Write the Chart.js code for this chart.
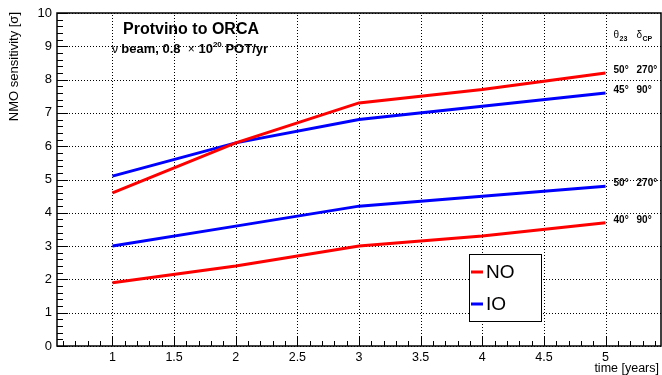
<!DOCTYPE html>
<html>
<head>
<meta charset="utf-8">
<script src="https://cdn.jsdelivr.net/npm/chart.js@4.4.1/dist/chart.umd.min.js"></script>
<style>
  html, body { margin: 0; padding: 0; background: #fff; }
  #wrap { width: 662px; height: 375px; }
</style>
</head>
<body>
<div id="wrap"><canvas id="nmoChart" width="662" height="375"></canvas></div>
<script>
// time in years
var years = [1, 2, 3, 4, 5];
// NMO sensitivity [sigma] per curve
var noUpper = [4.6, 6.1, 7.3, 7.7, 8.2];   // NO, th23=50, dCP=270
var ioUpper = [5.1, 6.1, 6.8, 7.2, 7.6];   // IO, th23=45, dCP=90
var ioLower = [3.0, 3.6, 4.2, 4.5, 4.8];   // IO, th23=50, dCP=270
var noLower = [1.9, 2.4, 3.0, 3.3, 3.7];   // NO, th23=40, dCP=90
var curveLabels = [['50°', '270°'], ['45°', '90°'], ['50°', '270°'], ['40°', '90°']];
var xTicks = [1, 1.5, 2, 2.5, 3, 3.5, 4, 4.5, 5];
var yTicks = [0, 1, 2, 3, 4, 5, 6, 7, 8, 9, 10];

var RED = 'rgb(255, 0, 0)';
var BLUE = 'rgb(0, 0, 255)';
var FONT = '"Liberation Sans", Arial, Helvetica, sans-serif';

function pts(vals) {
    return years.map(function (x, i) { return { x: x, y: vals[i] }; });
}

// dotted grid at the major ticks, under the curves
var dottedGrid = {
    id: 'dottedGrid',
    beforeDatasetsDraw: function (chart) {
        var ctx = chart.ctx;
        var a = chart.chartArea;
        var xs = chart.scales.x, ys = chart.scales.y;
        ctx.save();
        ctx.strokeStyle = '#000';
        ctx.lineWidth = 1;
        ctx.setLineDash([1, 2]);
        ctx.beginPath();
        xTicks.forEach(function (v) {
            var px = Math.round(xs.getPixelForValue(v)) + 0.5;
            ctx.moveTo(px, a.bottom);
            ctx.lineTo(px, a.top);
        });
        yTicks.forEach(function (v) {
            var py = Math.round(ys.getPixelForValue(v)) + 0.5;
            ctx.moveTo(a.left, py);
            ctx.lineTo(a.right, py);
        });
        ctx.stroke();
        ctx.restore();
    }
};

// draw a run of [text, font, dy] pieces one after another
function run(ctx, x, y, parts) {
    parts.forEach(function (p) {
        ctx.font = p[1];
        ctx.fillText(p[0], x, y + (p[2] || 0));
        x += ctx.measureText(p[0]).width;
    });
}

var rootStyle = {
    id: 'rootStyle',
    afterDraw: function (chart) {
        var ctx = chart.ctx;
        var a = chart.chartArea;
        var xs = chart.scales.x, ys = chart.scales.y;
        ctx.save();

        // minor / major ticks inside the frame
        ctx.strokeStyle = '#000';
        ctx.lineWidth = 1;
        ctx.beginPath();
        for (var i = 6; i <= 54; i++) {
            var px = Math.round(xs.getPixelForValue(i / 10)) + 0.5;
            var len = (i % 5 === 0) ? 10 : 5;
            ctx.moveTo(px, a.bottom);
            ctx.lineTo(px, a.bottom - len);
        }
        for (var j = 0; j <= 50; j++) {
            var py = Math.round(ys.getPixelForValue(j / 5)) + 0.5;
            var ylen = (j % 5 === 0) ? 11 : 6;
            ctx.moveTo(a.left, py);
            ctx.lineTo(a.left + ylen, py);
        }
        ctx.stroke();

        // frame
        ctx.lineWidth = 1.5;
        ctx.strokeRect(a.left, a.top, a.right - a.left, a.bottom - a.top);

        // axis titles
        ctx.fillStyle = '#000';
        ctx.font = '12.5px ' + FONT;
        ctx.textAlign = 'right';
        ctx.textBaseline = 'alphabetic';
        ctx.fillText('time [years]', a.right - 2, 372);
        ctx.save();
        ctx.translate(18, a.top - 1);
        ctx.rotate(-Math.PI / 2);
        ctx.font = '13px ' + FONT;
        ctx.fillText('NMO sensitivity [σ]', 0, 0);
        ctx.restore();

        // title block
        ctx.textAlign = 'left';
        ctx.font = 'bold 16px ' + FONT;
        ctx.fillText('Protvino to ORCA', 123, 34);
        var b = 'bold 13px ' + FONT, n = '12px ' + FONT, s = 'bold 8px ' + FONT;
        run(ctx, 112, 53, [
            ['ν ', n], ['beam, 0.8  ', b], ['×', n], [' 10', b], ['20', s, -6], [' POT/yr', b]
        ]);

        // column headers at right
        var cx1 = xs.getPixelForValue(5) + 8, cx2 = cx1 + 23;
        ctx.font = '10px ' + FONT;
        ctx.fillText('θ', cx1, 38);
        ctx.fillText('δ', cx2, 38);
        ctx.font = 'bold 7px ' + FONT;
        ctx.fillText('23', cx1 + 6, 41);
        ctx.fillText('CP', cx2 + 6, 41);

        // curve labels at the end of each line
        ctx.font = 'bold 10px ' + FONT;
        ctx.textBaseline = 'middle';
        chart.data.datasets.forEach(function (ds, k) {
            var last = ds.data[ds.data.length - 1];
            var ly = ys.getPixelForValue(last.y) - 3;
            ctx.fillText(curveLabels[k][0], cx1, ly);
            ctx.fillText(curveLabels[k][1], cx2, ly);
        });

        // legend box
        var lx = 469, ly0 = 254, lw = 72, lh = 67;
        ctx.fillStyle = '#fff';
        ctx.fillRect(lx, ly0, lw, lh);
        ctx.strokeStyle = '#000';
        ctx.lineWidth = 1;
        ctx.strokeRect(lx + 0.5, ly0 + 0.5, lw, lh);
        ctx.font = '19px ' + FONT;
        ctx.textBaseline = 'middle';
        [0, 1].forEach(function (k, m) {
            var ds = chart.data.datasets[k];
            var ry = ly0 + 18 + m * 32;
            ctx.strokeStyle = ds.borderColor;
            ctx.lineWidth = 3;
            ctx.beginPath();
            ctx.moveTo(lx + 2, ry);
            ctx.lineTo(lx + 14, ry);
            ctx.stroke();
            ctx.fillStyle = '#000';
            ctx.fillText(ds.label, lx + 17, ry + 1);
        });

        ctx.restore();
    }
};

var ctx = document.getElementById('nmoChart').getContext('2d');
var myChart = new Chart(ctx, {
    type: 'line',
    data: {
        datasets: [
            { label: 'NO', data: pts(noUpper), borderColor: RED },
            { label: 'IO', data: pts(ioUpper), borderColor: BLUE },
            { label: 'IO ', data: pts(ioLower), borderColor: BLUE },
            { label: 'NO ', data: pts(noLower), borderColor: RED }
        ]
    },
    options: {
        responsive: false,
        animation: false,
        layout: { padding: { top: 13, right: 1, left: 0, bottom: 0 } },
        elements: {
            line: { borderWidth: 3, tension: 0, fill: false },
            point: { radius: 0 }
        },
        plugins: {
            legend: { display: false },
            tooltip: { enabled: false }
        },
        scales: {
            x: {
                type: 'linear',
                min: 0.55,
                max: 5.45,
                afterBuildTicks: function (s) { s.ticks = xTicks.map(function (v) { return { value: v }; }); },
                afterFit: function (s) { s.height = 29; },
                grid: { display: false, drawTicks: false },
                border: { display: false },
                ticks: {
                    color: '#000', padding: 4, maxRotation: 0,
                    font: { family: FONT, size: 12.5 },
                    callback: function (v) { return String(v); }
                }
            },
            y: {
                min: 0,
                max: 10,
                afterBuildTicks: function (s) { s.ticks = yTicks.map(function (v) { return { value: v }; }); },
                afterFit: function (s) { s.width = 57; },
                grid: { display: false, drawTicks: false },
                border: { display: false },
                ticks: { color: '#000', padding: 5, font: { family: FONT, size: 13 } }
            }
        }
    },
    plugins: [dottedGrid, rootStyle]
});
</script>
</body>
</html>
